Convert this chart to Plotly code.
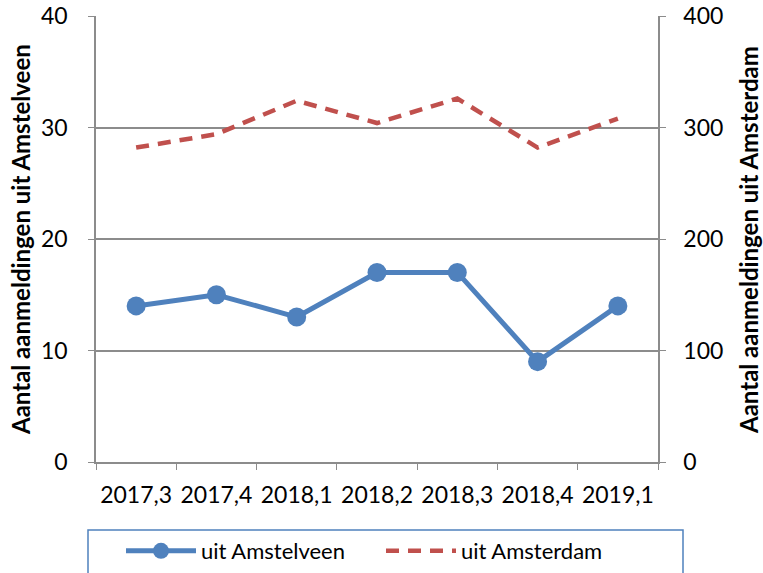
import plotly.graph_objects as go

categories = ["2017,3", "2017,4", "2018,1", "2018,2", "2018,3", "2018,4", "2019,1"]
amstelveen = [14, 15, 13, 17, 17, 9, 14]
amsterdam = [282, 294, 324, 304, 326, 282, 308]
left_ticks = [0, 10, 20, 30, 40]
right_ticks = [0, 100, 200, 300, 400]
left_title = "Aantal aanmeldingen uit Amstelveen"
right_title = "Aantal aanmeldingen uit Amsterdam"

FONT = "Lato"
BLUE = "#4F81BD"
RED = "#C0504D"
GRID = "#8C8C8C"

W, H = 763, 573
ML, MR, MT, MB = 96, 105, 16, 111
PW, PH = W - ML - MR, H - MT - MB


def px_x(px):
    return (px - ML) / PW


def px_y(py):
    return (H - MB - py) / PH


fig = go.Figure()
fig.add_trace(go.Scatter(
    x=categories, y=amstelveen, name="uit Amstelveen", mode="lines+markers",
    line=dict(color=BLUE, width=5), marker=dict(color=BLUE, size=19),
    yaxis="y"))
fig.add_trace(go.Scatter(
    x=categories, y=amsterdam, name="uit Amsterdam", mode="lines",
    line=dict(color=RED, width=4.5, dash="13px,9px"),
    yaxis="y2"))

fig.update_layout(
    width=W, height=H,
    margin=dict(l=ML, r=MR, t=MT, b=MB, autoexpand=False),
    paper_bgcolor="white", plot_bgcolor="white",
    font=dict(family=FONT, size=23, color="#000000"),
    xaxis=dict(
        type="category", showgrid=False, showline=True, linecolor=GRID, linewidth=1.5,
        ticks="outside", tickson="boundaries", ticklen=6, tickcolor=GRID, tickangle=0,
        tickfont=dict(size=23), ticklabelstandoff=12, range=[-0.5, 6.5], automargin=False),
    yaxis=dict(
        range=[0, 40], tickvals=left_ticks, showgrid=True, gridcolor=GRID, gridwidth=1.5,
        showline=True, linecolor=GRID, linewidth=1.5, ticks="outside", ticklen=6,
        tickcolor=GRID, zeroline=False, ticklabelstandoff=16, automargin=False),
    yaxis2=dict(
        range=[0, 400], tickvals=right_ticks, overlaying="y", side="right", showgrid=False,
        showline=True, linecolor=GRID, linewidth=1.5, ticks="outside", ticklen=6,
        tickcolor=GRID, zeroline=False, ticklabelstandoff=13, automargin=False),
    legend=dict(
        orientation="h", x=px_x(121), xanchor="left",
        y=px_y(530), yanchor="top",
        borderwidth=0, bgcolor="rgba(0,0,0,0)", font=dict(size=22),
        entrywidth=175, itemwidth=70),
    showlegend=True,
    shapes=[dict(
        type="rect", xref="paper", yref="paper",
        x0=px_x(88), x1=px_x(683), y0=px_y(530), y1=px_y(585),
        line=dict(color=BLUE, width=1.5), fillcolor="rgba(0,0,0,0)", layer="above")],
    annotations=[
        dict(text="<b>" + left_title + "</b>", xref="paper", yref="paper",
             x=px_x(20), y=px_y(240), xanchor="center", yanchor="middle", textangle=-90,
             showarrow=False, font=dict(size=24)),
        dict(text="<b>" + right_title + "</b>", xref="paper", yref="paper",
             x=px_x(748), y=px_y(240), xanchor="center", yanchor="middle", textangle=-90,
             showarrow=False, font=dict(size=24)),
    ],
)

fig.write_html("out.html", config={"displayModeBar": False},
               post_script="document.body.style.margin='0';")
